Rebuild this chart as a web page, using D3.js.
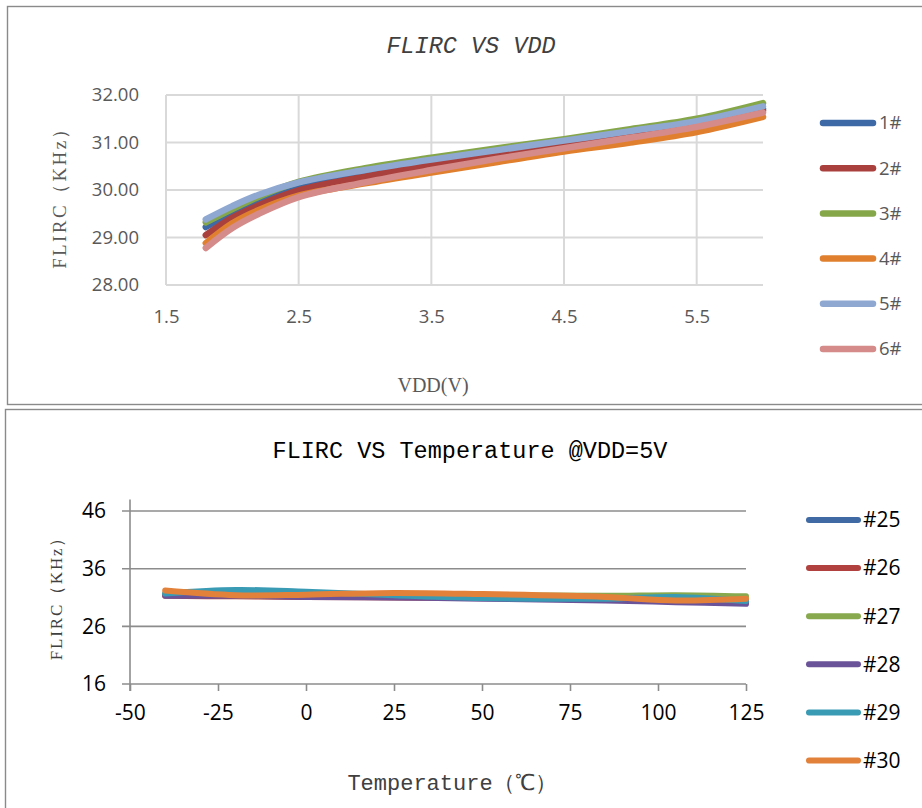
<!DOCTYPE html>
<html><head><meta charset="utf-8">
<script src="https://cdn.jsdelivr.net/npm/d3@7"></script>
<style>html,body{margin:0;padding:0;background:#fff;} svg{display:block;}</style>
</head><body>
<svg id="chart" width="922" height="808"></svg>
<script>
// ---------- Chart 1: FLIRC vs VDD ----------
const vddValues = [1.8, 2.0, 2.2, 2.5, 3.0, 3.5, 4.0, 4.5, 5.0, 5.5, 6.0];
const vddNames = ["1#", "2#", "3#", "4#", "5#", "6#"];
const vdd1 = [29.22, 29.53, 29.79, 30.08, 30.36, 30.58, 30.79, 30.99, 31.20, 31.41, 31.71];
const vdd2 = [29.05, 29.42, 29.68, 29.99, 30.28, 30.52, 30.75, 30.96, 31.16, 31.38, 31.67];
const vdd3 = [29.32, 29.60, 29.86, 30.17, 30.46, 30.68, 30.88, 31.07, 31.28, 31.50, 31.83];
const vdd4 = [28.88, 29.30, 29.58, 29.88, 30.14, 30.37, 30.59, 30.81, 31.00, 31.22, 31.54];
const vdd5 = [29.38, 29.66, 29.90, 30.16, 30.42, 30.64, 30.84, 31.04, 31.24, 31.45, 31.76];
const vdd6 = [28.78, 29.20, 29.50, 29.85, 30.16, 30.42, 30.66, 30.88, 31.10, 31.33, 31.63];
const vddColors = ["#3d6aa6", "#a9403d", "#86a64a", "#e0802f", "#8ea8d2", "#d48b89"];
const vddXTicks = [1.5, 2.5, 3.5, 4.5, 5.5];
const vddYTicks = [28, 29, 30, 31, 32];

// ---------- Chart 2: FLIRC vs Temperature ----------
const tempValues = [-40, -20, 0, 25, 50, 85, 105, 125];
const tempNames = ["#25", "#26", "#27", "#28", "#29", "#30"];
const t25 = [31.5, 31.6, 31.5, 31.3, 31.1, 30.9, 30.8, 30.4];
const t26 = [31.3, 31.2, 31.1, 31.0, 30.9, 30.7, 30.4, 30.2];
const t27 = [31.6, 31.7, 31.6, 31.5, 31.4, 31.3, 31.4, 31.2];
const t28 = [31.3, 31.3, 31.1, 31.0, 30.8, 30.5, 30.2, 29.9];
const t29 = [31.7, 32.3, 32.0, 31.4, 30.9, 30.8, 31.1, 30.4];
const t30 = [32.2, 31.4, 31.5, 31.8, 31.6, 31.1, 30.5, 30.8];
const tempColors = ["#3f6aa3", "#b0413e", "#88a94e", "#6b5399", "#3a9bb5", "#e2813a"];
const tempXTicks = [-50, -25, 0, 25, 50, 75, 100, 125];
const tempYTicks = [16, 26, 36, 46];

const svg = d3.select("#chart");
const sans = "'Open Sans', 'DejaVu Sans', sans-serif";
const serif = "'Liberation Serif', 'DejaVu Serif', serif";
const mono = "'Liberation Mono', 'DejaVu Sans Mono', monospace";

// panel borders
svg.append("rect").attr("x", 7.5).attr("y", 6.5).attr("width", 940).attr("height", 398)
  .attr("fill", "none").attr("stroke", "#8a8a8a").attr("stroke-width", 1.4);
svg.append("rect").attr("x", 5.5).attr("y", 409.5).attr("width", 940).attr("height", 420)
  .attr("fill", "none").attr("stroke", "#8a8a8a").attr("stroke-width", 1.4);

// ===== Chart 1 =====
const x1 = d3.scaleLinear().domain([1.5, 6.0]).range([166, 763]);
const y1 = d3.scaleLinear().domain([28, 32]).range([285, 95]);
const g1 = svg.append("g");

g1.append("g").selectAll("line").data(vddYTicks).join("line")
  .attr("x1", x1(1.5)).attr("x2", x1(6.0))
  .attr("y1", d => y1(d)).attr("y2", d => y1(d))
  .attr("stroke", "#d9d9d9").attr("stroke-width", 2);
g1.append("g").selectAll("line").data(vddXTicks).join("line")
  .attr("x1", d => x1(d)).attr("x2", d => x1(d))
  .attr("y1", y1(28)).attr("y2", y1(32))
  .attr("stroke", "#d9d9d9").attr("stroke-width", 2);

const ax1 = g1.append("g").attr("transform", `translate(0,${y1(28)})`)
  .call(d3.axisBottom(x1).tickValues(vddXTicks).tickFormat(d3.format(".1f")).tickSize(0).tickPadding(25));
const ay1 = g1.append("g").attr("transform", `translate(${x1(1.5)},0)`)
  .call(d3.axisLeft(y1).tickValues(vddYTicks).tickFormat(d3.format(".2f")).tickSize(0).tickPadding(27));
[ax1, ay1].forEach(a => {
  a.select(".domain").remove();
  a.selectAll("text").attr("font-family", sans).attr("font-size", 18.5).attr("fill", "#595959");
});

const vddSeries = [vdd1, vdd2, vdd3, vdd4, vdd5, vdd6];
const line1 = d3.line().x((d, i) => x1(vddValues[i])).y(d => y1(d)).curve(d3.curveCatmullRom.alpha(0.5));
g1.append("g").selectAll("path").data(vddSeries).join("path")
  .attr("d", d => line1(d)).attr("fill", "none")
  .attr("stroke", (d, i) => vddColors[i]).attr("stroke-width", 6.5)
  .attr("stroke-linecap", "round").attr("stroke-linejoin", "round");

svg.append("text").attr("x", 471).attr("y", 53).attr("text-anchor", "middle")
  .attr("font-family", mono).attr("font-style", "italic").attr("font-size", 23.5)
  .attr("fill", "#404040").text("FLIRC VS VDD");
svg.append("text").attr("transform", "translate(66,193) rotate(-90)").attr("text-anchor", "middle")
  .attr("font-family", serif).attr("font-size", 19).attr("letter-spacing", 2.4)
  .attr("fill", "#595959").text("FLIRC（KHz）");
svg.append("text").attr("x", 433).attr("y", 392).attr("text-anchor", "middle")
  .attr("font-family", serif).attr("font-size", 20)
  .attr("fill", "#595959").text("VDD(V)");

const lg1 = svg.append("g").selectAll("g").data(vddNames).join("g")
  .attr("transform", (d, i) => `translate(0,${123 + i * 45.2})`);
lg1.append("line").attr("x1", 823).attr("x2", 873).attr("y1", 0).attr("y2", 0)
  .attr("stroke", (d, i) => vddColors[i]).attr("stroke-width", 6.5).attr("stroke-linecap", "round");
lg1.append("text").attr("x", 879).attr("y", 0).attr("dy", "0.35em")
  .attr("font-family", sans).attr("font-size", 18.5).attr("fill", "#595959").text(d => d);

// ===== Chart 2 =====
const x2 = d3.scaleLinear().domain([-50, 125]).range([130, 746]);
const y2 = d3.scaleLinear().domain([16, 48]).range([684, 499.5]);
const g2 = svg.append("g");

g2.append("g").selectAll("line").data(tempYTicks).join("line")
  .attr("x1", 122).attr("x2", x2(125))
  .attr("y1", d => y2(d)).attr("y2", d => y2(d))
  .attr("stroke", "#8c8c8c").attr("stroke-width", 1.6);
g2.append("line").attr("x1", x2(-50)).attr("x2", x2(-50)).attr("y1", y2(48)).attr("y2", y2(16) + 7)
  .attr("stroke", "#8c8c8c").attr("stroke-width", 1.6);

const ax2 = g2.append("g").attr("transform", `translate(0,${y2(16)})`)
  .call(d3.axisBottom(x2).tickValues(tempXTicks).tickFormat(d => String(d)).tickSize(7).tickPadding(14));
ax2.select(".domain").remove();
ax2.selectAll(".tick line").attr("stroke", "#8c8c8c").attr("stroke-width", 1.6);
const ay2 = g2.append("g").attr("transform", `translate(${x2(-50)},0)`)
  .call(d3.axisLeft(y2).tickValues(tempYTicks).tickSize(0).tickPadding(24));
ay2.select(".domain").remove();
[ax2, ay2].forEach(a => a.selectAll("text").attr("font-family", sans).attr("font-size", 21).attr("fill", "#000"));

const tempSeries = [t25, t26, t27, t28, t29, t30];
const line2 = d3.line().x((d, i) => x2(tempValues[i])).y(d => y2(d)).curve(d3.curveCatmullRom.alpha(0.5));
g2.append("g").selectAll("path").data(tempSeries).join("path")
  .attr("d", d => line2(d)).attr("fill", "none")
  .attr("stroke", (d, i) => tempColors[i]).attr("stroke-width", 6)
  .attr("stroke-linecap", "round").attr("stroke-linejoin", "round");

svg.append("text").attr("x", 470).attr("y", 458).attr("text-anchor", "middle")
  .attr("font-family", mono).attr("font-size", 23.5)
  .attr("fill", "#000").text("FLIRC VS Temperature @VDD=5V");
svg.append("text").attr("transform", "translate(62,594) rotate(-90)").attr("text-anchor", "middle")
  .attr("font-family", serif).attr("font-size", 17).attr("letter-spacing", 1.8)
  .attr("fill", "#404040").text("FLIRC（KHz）");
svg.append("text").attr("x", 452).attr("y", 790).attr("text-anchor", "middle")
  .attr("font-family", mono).attr("font-size", 22)
  .attr("fill", "#404040").text("Temperature（℃）");

const lg2 = svg.append("g").selectAll("g").data(tempNames).join("g")
  .attr("transform", (d, i) => `translate(0,${520 + i * 48.1})`);
lg2.append("line").attr("x1", 809).attr("x2", 858).attr("y1", 0).attr("y2", 0)
  .attr("stroke", (d, i) => tempColors[i]).attr("stroke-width", 6).attr("stroke-linecap", "round");
lg2.append("text").attr("x", 863).attr("y", 0).attr("dy", "0.35em")
  .attr("font-family", sans).attr("font-size", 21).attr("fill", "#000").text(d => d);
</script>
</body></html>
